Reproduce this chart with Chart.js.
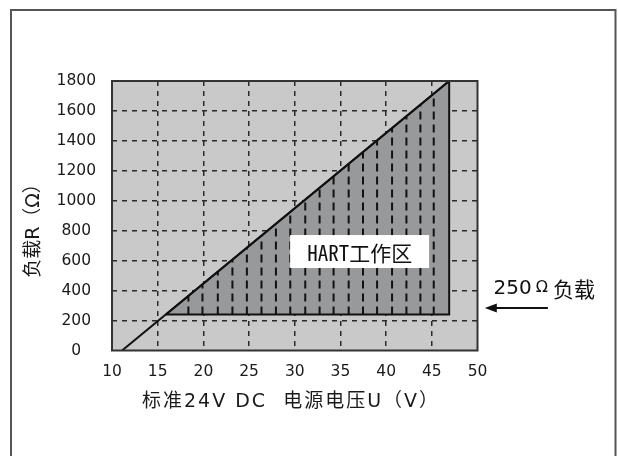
<!DOCTYPE html>
<html>
<head>
<meta charset="utf-8">
<script src="https://cdn.jsdelivr.net/npm/chart.js@4/dist/chart.umd.min.js"></script>
<style>
  html, body { margin: 0; padding: 0; background: #fff; }
</style>
</head>
<body>
<canvas id="myChart" width="618" height="456"></canvas>
<script>
// ticks
var xTicks = [10, 15, 20, 25, 30, 35, 40, 45, 50];
var yTicks = [0, 200, 400, 600, 800, 1000, 1200, 1400, 1600, 1800];

// load line: supply voltage U (V) -> max load R (ohm)
var lineU = [11.1, 46.9];
var lineR = [0, 1800];

// HART working zone (triangle), x must run left to right for the fill
var zoneU = [15.9, 46.9, 46.9];
var zoneR = [240, 1800, 240];
var zoneBase = 240;

// dashed hatch lines inside the zone, bottom at 240, top on the load line
var hatchU = [18.36, 19.9, 21.58, 23.18, 24.76, 26.36, 27.94, 29.51, 31.15, 32.72, 34.25, 35.9, 37.47, 39.01, 40.65, 42.22, 43.75, 45.21];
var hatchTop = [365, 442, 527, 607, 687, 767, 847, 926, 1008, 1087, 1164, 1247, 1326, 1403, 1486, 1565, 1642, 1715];

// texts
var xTitle = '标准24V DC  电源电压U（V）';
var yTitle = '负载R（Ω）';
var zoneLabel = 'HART工作区';
var zoneLabelAt = [37.1, 661];
var loadLabel = ['250', 'Ω', '负载'];
var loadLabelAt = [51.75, 411];
var arrowFrom = [57.7, 284];
var arrowTo = [50.8, 284];

function pts(us, rs) {
  return us.map(function(u, i) { return {x: u, y: rs[i]}; });
}

var hatchData = [];
hatchU.forEach(function(u, i) {
  hatchData.push({x: u, y: zoneBase});
  hatchData.push({x: u, y: hatchTop[i]});
  hatchData.push({x: u, y: null});
});

// outline of the zone incl. the bottom edge
var zoneOutline = pts(zoneU, zoneR).concat([{x: zoneU[0], y: zoneBase}]);

function edgeColor(min, max) {
  return function(c) {
    if (!c.tick) return 'rgba(0,0,0,0)';
    return (c.tick.value === min || c.tick.value === max) ? 'rgba(0,0,0,0)' : '#2a2a2a';
  };
}

var decor = {
  id: 'decor',
  beforeDraw: function(chart) {
    var c = chart.ctx, a = chart.chartArea;
    c.save();
    c.fillStyle = '#c9c9ca';
    c.fillRect(a.left, a.top, a.right - a.left, a.bottom - a.top);
    c.restore();
  },
  afterDatasetsDraw: function(chart) {
    var c = chart.ctx, a = chart.chartArea;
    var xs = chart.scales.x, ys = chart.scales.y;
    c.save();
    // plot border
    c.strokeStyle = '#333';
    c.lineWidth = 2;
    c.strokeRect(a.left, a.top, a.right - a.left, a.bottom - a.top);

    // outer frame (open at the bottom)
    c.strokeStyle = '#555';
    c.lineWidth = 2;
    c.beginPath();
    c.moveTo(11, 456);
    c.lineTo(11, 10);
    c.lineTo(615.5, 10);
    c.lineTo(615.5, 456);
    c.stroke();

    // HART box
    var bx = xs.getPixelForValue(zoneLabelAt[0]), by = ys.getPixelForValue(zoneLabelAt[1]);
    c.fillStyle = '#fff';
    c.fillRect(bx - 69.5, by - 16.5, 139, 33);
    c.fillStyle = '#111';
    c.textBaseline = 'middle';
    c.textAlign = 'center';
    c.font = '21px "Noto Sans Mono CJK SC", "Noto Sans CJK SC"';
    c.fillText(zoneLabel, bx, by + 1);

    // 250 ohm label
    var lx = xs.getPixelForValue(loadLabelAt[0]), ly = ys.getPixelForValue(loadLabelAt[1]);
    c.textAlign = 'left';
    c.font = '20px "DejaVu Sans"';
    c.fillText(loadLabel[0], lx, ly);
    var w0 = c.measureText(loadLabel[0]).width;
    c.font = '16px "DejaVu Sans"';
    c.fillText(loadLabel[1], lx + w0 + 4, ly - 1);
    var w1 = c.measureText(loadLabel[1]).width;
    c.font = '21px "Noto Sans CJK SC"';
    c.fillText(loadLabel[2], lx + w0 + w1 + 9, ly);

    // arrow
    var ax1 = xs.getPixelForValue(arrowFrom[0]), ax2 = xs.getPixelForValue(arrowTo[0]);
    var ay = ys.getPixelForValue(arrowFrom[1]);
    c.strokeStyle = '#111';
    c.lineWidth = 2;
    c.beginPath();
    c.moveTo(ax1, ay);
    c.lineTo(ax2 + 8, ay);
    c.stroke();
    c.fillStyle = '#111';
    c.beginPath();
    c.moveTo(ax2, ay);
    c.lineTo(ax2 + 12, ay - 4.5);
    c.lineTo(ax2 + 12, ay + 4.5);
    c.closePath();
    c.fill();

    // axis titles
    c.fillStyle = '#1a1a1a';
    c.textAlign = 'center';
    c.font = '19px "DejaVu Sans", "Noto Sans CJK SC"';
    c.letterSpacing = '2px';
    c.fillText(xTitle, 291, 402);
    c.letterSpacing = '0px';
    c.translate(34, 226);
    c.rotate(-Math.PI / 2);
    c.font = '19px "DejaVu Sans", "Noto Sans CJK SC"';
    c.fillText(yTitle, 0, 0);
    c.restore();
  }
};

var ctx = document.getElementById('myChart').getContext('2d');
var myChart = new Chart(ctx, {
  type: 'line',
  data: {
    datasets: [
      {
        label: 'load line',
        data: pts(lineU, lineR),
        borderColor: '#111',
        borderWidth: 2,
        pointRadius: 0,
        fill: false,
        order: 1
      },
      {
        label: 'hatch',
        data: hatchData,
        spanGaps: false,
        borderColor: '#111',
        borderWidth: 2,
        borderDash: [8, 5],
        pointRadius: 0,
        fill: false,
        order: 2
      },
      {
        label: 'zone outline',
        data: zoneOutline,
        borderColor: '#111',
        borderWidth: 2,
        pointRadius: 0,
        fill: false,
        order: 3
      },
      {
        label: 'HART zone',
        data: pts(zoneU, zoneR),
        fill: {value: zoneBase},
        backgroundColor: '#98999b',
        borderColor: 'rgba(0,0,0,0)',
        borderWidth: 0,
        pointRadius: 0,
        order: 4
      }
    ]
  },
  options: {
    responsive: false,
    animation: false,
    events: [],
    layout: { padding: { top: 81, right: 140.5, left: 0, bottom: 0 } },
    plugins: {
      legend: { display: false },
      tooltip: { enabled: false }
    },
    scales: {
      x: {
        type: 'linear',
        min: 10,
        max: 50,
        afterBuildTicks: function(s) { s.ticks = xTicks.map(function(v) { return {value: v}; }); },
        afterFit: function(s) { s.height = 105.5; },
        grid: { color: edgeColor(10, 50), lineWidth: 1.5, drawTicks: false },
        border: { display: false, dash: [5, 5] },
        ticks: { padding: 12, color: '#1a1a1a', font: { family: 'DejaVu Sans', size: 15.5 },
          callback: function(v) { return String(v); } }
      },
      y: {
        type: 'linear',
        min: 0,
        max: 1800,
        afterBuildTicks: function(s) { s.ticks = yTicks.map(function(v) { return {value: v}; }); },
        afterFit: function(s) { s.width = 112; },
        grid: { color: edgeColor(0, 1800), lineWidth: 1.5, drawTicks: false },
        border: { display: false, dash: [5, 5] },
        ticks: { padding: 16, crossAlign: 'center', color: '#1a1a1a', font: { family: 'DejaVu Sans', size: 15.5 },
          callback: function(v) { return String(v); } }
      }
    }
  },
  plugins: [decor]
});
</script>
</body>
</html>
